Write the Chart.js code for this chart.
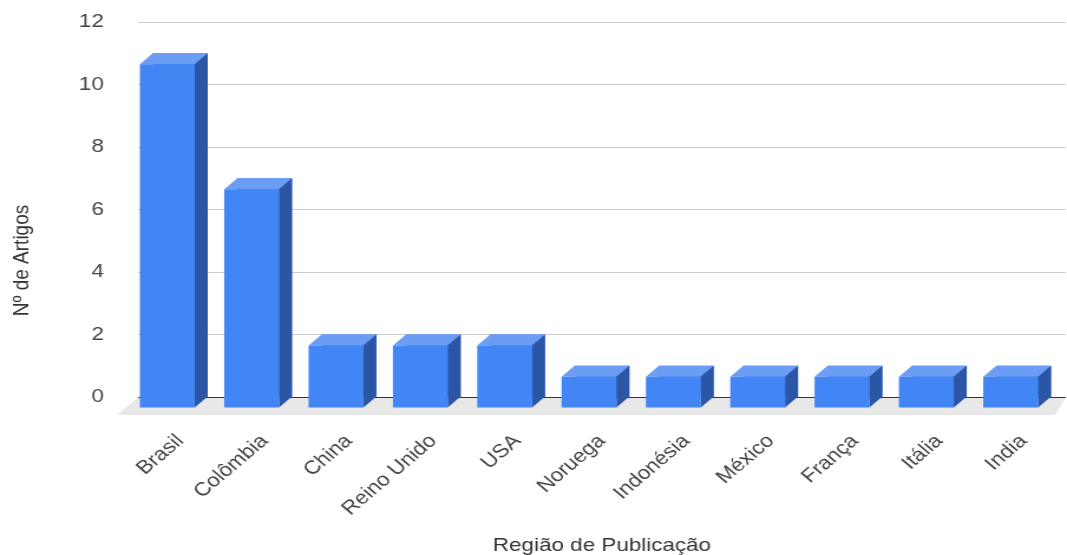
<!DOCTYPE html>
<html lang="pt-BR">
<head>
<meta charset="utf-8">
<title>Nº de Artigos por Região de Publicação</title>
<script src="https://cdn.jsdelivr.net/npm/chart.js@4.4.1/dist/chart.umd.min.js"></script>
<style>
  html, body { margin: 0; padding: 0; background: #fff; overflow: hidden; }
  /* the chart is drawn narrower and widened, like the exported sheet image */
  #wrap { width: 904px; height: 555px; transform: scaleX(1.1803); transform-origin: 0 0; }
</style>
</head>
<body>
<div id="wrap"><canvas id="artigos" width="904" height="555"></canvas></div>
<script>
// ── Dados ────────────────────────────────────────────────────────────
const regioes = ['Brasil', 'Colômbia', 'China', 'Reino Unido', 'USA', 'Noruega',
                 'Indonésia', 'México', 'França', 'Itália', 'India'];
const artigos = [11, 7, 2, 2, 2, 1, 1, 1, 1, 1, 1];
const ticksY  = [0, 2, 4, 6, 8, 10, 12];
const tituloY = 'Nº de Artigos';
const tituloX = 'Região de Publicação';

// cores das faces do prisma
const corFrente = '#4285f4';
const corLado   = '#2b55a5';
const corTopo   = '#6a9df3';
const corPiso   = '#e8e8e8';

const fonte = { family: '"Liberation Sans", Arial, sans-serif', size: 19 };

// deslocamento da face da frente em relação à barra (efeito 3D)
const prof = { dx: 11, dy: 11 };

// ── Plugin: piso + barras em 3D + título do eixo Y ───────────────────
const barras3d = {
    id: 'barras3d',
    beforeDraw(chart) {
        const { ctx, chartArea: a } = chart;
        ctx.save();
        ctx.fillStyle = corPiso;
        ctx.beginPath();
        ctx.moveTo(a.left, a.bottom);
        ctx.lineTo(a.right, a.bottom);
        ctx.lineTo(a.right - 9, a.bottom + 18);
        ctx.lineTo(a.left - 18, a.bottom + 18);
        ctx.closePath();
        ctx.fill();
        ctx.restore();
    },
    afterDatasetDraw(chart, args) {
        const ctx = chart.ctx;
        const { dx, dy } = prof;

        function poly(pts, cor) {
            ctx.fillStyle = cor;
            ctx.beginPath();
            pts.forEach(([px, py], i) => i ? ctx.lineTo(px, py) : ctx.moveTo(px, py));
            ctx.closePath();
            ctx.fill();
        }

        ctx.save();
        args.meta.data.forEach(bar => {
            const { x, y, base, width } = bar.getProps(['x', 'y', 'base', 'width'], true);
            const l = x - width / 2, r = x + width / 2;
            const fl = l - dx, fr = r - dx, ft = y + dy, fb = base + dy;

            poly([[fl, ft], [l, y], [r, y], [fr, ft]], corTopo);          // topo
            poly([[fr, ft], [r, y], [r, base], [fr, fb]], corLado);       // lateral
            poly([[fl, ft], [fr, ft], [fr, fb], [fl, fb]], corFrente);    // frente
        });
        ctx.restore();
    },
    afterDraw(chart) {
        // título do eixo Y, centrado na altura total do gráfico
        const ctx = chart.ctx;
        ctx.save();
        ctx.translate(19, chart.height / 2 - 17);
        ctx.rotate(-Math.PI / 2);
        ctx.font = `${fonte.size}px ${fonte.family}`;
        ctx.fillStyle = '#333';
        ctx.textAlign = 'center';
        ctx.textBaseline = 'middle';
        ctx.fillText(tituloY, 0, 0);
        ctx.restore();
    }
};

// ── Gráfico ──────────────────────────────────────────────────────────
new Chart(document.getElementById('artigos'), {
    type: 'bar',
    data: {
        labels: regioes,
        datasets: [{
            label: tituloY,
            data: artigos,
            backgroundColor: corFrente,
            barPercentage: 0.65,
            categoryPercentage: 1
        }]
    },
    options: {
        responsive: false,
        animation: false,
        devicePixelRatio: 1,
        layout: { padding: { top: 22, right: 1, left: 0, bottom: 0 } },
        plugins: { legend: { display: false }, tooltip: { enabled: false } },
        scales: {
            x: {
                grid: { display: false, drawTicks: false },
                border: { display: false },
                ticks: { color: '#444', font: fonte, minRotation: 45, maxRotation: 45, padding: 33, autoSkip: false },
                title: {
                    display: true, text: tituloX, color: '#333',
                    font: { ...fonte, lineHeight: 1 }, padding: { top: 0, bottom: 0 }
                },
                afterFit: (s) => { s.height = 158; s.paddingLeft = 0; s.paddingRight = 0; }
            },
            y: {
                min: 0, max: 12,
                afterBuildTicks: (s) => { s.ticks = ticksY.map(v => ({ value: v })); },
                grid: {
                    drawTicks: false,
                    color: (c) => c.tick && c.tick.value === 0 ? '#333' : '#cccccc'
                },
                border: { display: false },
                ticks: { color: '#444', font: fonte, padding: 29 },
                afterFit: (s) => { s.width = 117; s.paddingTop = 0; s.paddingBottom = 0; }
            }
        }
    },
    plugins: [barras3d]
});
</script>
</body>
</html>
